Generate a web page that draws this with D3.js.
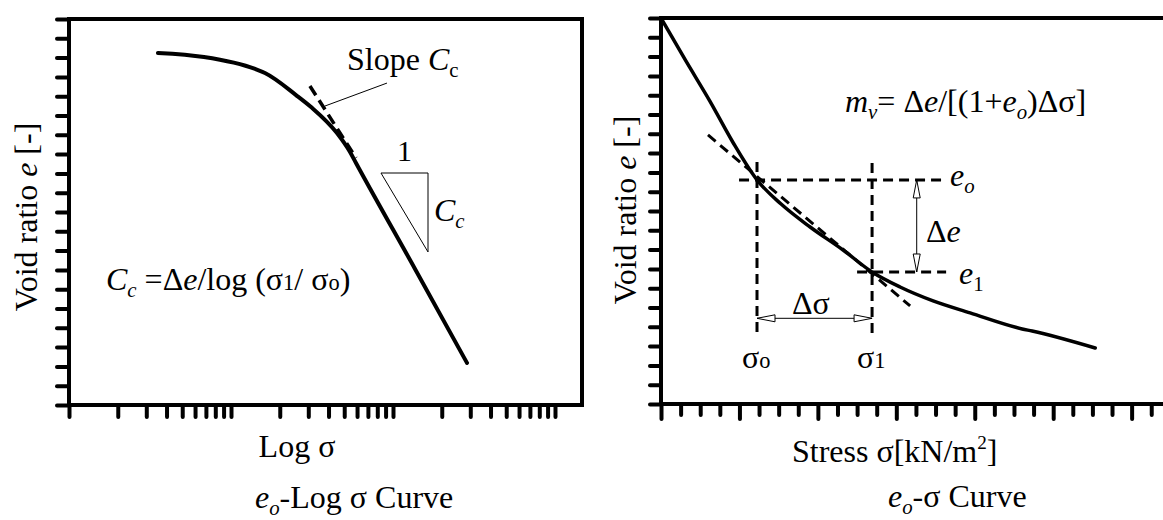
<!DOCTYPE html>
<html><head><meta charset="utf-8">
<script src="https://cdn.jsdelivr.net/npm/d3@7/dist/d3.min.js"></script>
<style>
body{margin:0;background:#fff;}
svg{display:block;}
text{font-family:"Liberation Serif","Times New Roman",serif;fill:#000;white-space:pre;}
</style></head><body>
<svg id="chart" width="1163" height="520"></svg>
<script>
// ---------- data ----------
const eTicks = d3.range(0, 21).map(i => i / 10);                 // void ratio ticks (no labels)
const logTicks = [1,2,3,4,5,6,7,8,9,10,20,30,40,50,60,70,80,90,100,200,300,400,500,600,700,800,900,1000];
const stressTicks = d3.range(0, 626, 25);

// left: e - log sigma curve
const logCurveSigma = [3.54, 6.81, 14.1, 16.2, 25.2, 31.2, 45.1, 54.3, 59.1, 136.8, 286.4];
const logCurveE     = [1.824, 1.803, 1.741, 1.720, 1.606, 1.544, 1.409, 1.311, 1.254, 0.705, 0.218];
const tangentLogSigma = [30.7, 59.1];
const tangentLogE     = [1.653, 1.280];
const leaderSigma = [91.8, 38.0];
const leaderE     = [1.668, 1.549];
const triangleSigma = [84.3, 164.5, 164.5, 84.3];
const triangleE     = [1.202, 1.202, 0.793, 1.202];

// right: e - sigma curve
const stressCurveSigma = [0, 30.6, 62.5, 91.8, 122.4, 153.1, 190.1, 232.1, 269.1, 304.8, 346.9, 394.1, 460.5, 473.2, 553.6];
const stressCurveE     = [2.000, 1.785, 1.568, 1.355, 1.161, 1.036, 0.917, 0.798, 0.684, 0.606, 0.534, 0.472, 0.389, 0.378, 0.290];
const sigmaPoints = [122.4, 269.1];   // sigma_o, sigma_1
const ePoints     = [1.161, 0.684];   // e_o, e_1
const secantSigma = [59.9, 317.6];
const secantE     = [1.394, 0.508];

// ---------- drawing ----------
const svg = d3.select("#chart");
const FS = 32;

const xL = d3.scaleLog().domain([1, 1468]).range([69, 582]);
const yL = d3.scaleLinear().domain([0, 2]).range([405, 19]);
const xR = d3.scaleLinear().domain([0, 640]).range([661, 1163]);
const yR = d3.scaleLinear().domain([0, 2]).range([404, 18]);

function rich(sel, x, y, segs, fs, anchor) {
  const t = sel.append("text").attr("x", x).attr("y", y).attr("font-size", fs)
    .attr("text-anchor", anchor || "start");
  let cur = 0;
  segs.forEach(([str, st = ""]) => {
    const ts = t.append("tspan").text(str);
    let shift = 0, size = fs;
    if (st.includes("i")) ts.attr("font-style", "italic");
    if (st.includes("b")) { shift = fs * 0.22; size = fs * 0.65; }
    if (st.includes("p")) { shift = -fs * 0.4; size = fs * 0.6; }
    if (st.includes("s")) { size = fs * 0.7; }
    if (size !== fs) ts.attr("font-size", size);
    if (shift !== cur) { ts.attr("dy", shift - cur); cur = shift; }
  });
  return t;
}

function styleAxis(g, w) {
  g.select(".domain").remove();
  g.selectAll(".tick line").attr("stroke", "#000").attr("stroke-width", w).attr("stroke-linecap", "round");
  g.selectAll(".tick text").remove();
}

const line = (xs, ys, X, Y, curve) => d3.line().x(i => X(xs[i])).y(i => Y(ys[i])).curve(curve || d3.curveLinear)(d3.range(xs.length));

// ===== Left panel =====
const L = svg.append("g");
L.append("g").attr("transform", `translate(${xL.range()[0]},0)`)
  .call(d3.axisLeft(yL).tickValues(eTicks).tickSize(12).tickFormat(""))
  .call(g => styleAxis(g, 4));
L.append("g").attr("transform", `translate(0,${yL.range()[0]})`)
  .call(d3.axisBottom(xL).tickValues(logTicks).tickSize(12).tickFormat(""))
  .call(g => styleAxis(g, 4));
const [lx0, lx1] = xL.range(), [ly0, ly1] = yL.range();
L.append("path").attr("d", `M${lx0},${ly0}V${ly1}H${lx1}V${ly0}H${lx0 - 1}`)
  .attr("fill", "none").attr("stroke", "#000").attr("stroke-width", 4).attr("stroke-linejoin", "miter");

L.append("path").attr("d", line(logCurveSigma, logCurveE, xL, yL, d3.curveMonotoneX))
  .attr("fill", "none").attr("stroke", "#000").attr("stroke-width", 4).attr("stroke-linecap", "round");
L.append("path").attr("d", line(tangentLogSigma, tangentLogE, xL, yL))
  .attr("fill", "none").attr("stroke", "#000").attr("stroke-width", 3.5).attr("stroke-dasharray", "11,6");
L.append("path").attr("d", line(leaderSigma, leaderE, xL, yL))
  .attr("fill", "none").attr("stroke", "#000").attr("stroke-width", 1);
L.append("path").attr("d", line(triangleSigma, triangleE, xL, yL))
  .attr("fill", "none").attr("stroke", "#000").attr("stroke-width", 1);

rich(L, 347, 70, [["Slope "], ["C", "i"], ["c", "b"]], FS);
rich(L, 397, 161, [["1"]], FS - 2);
rich(L, 434, 221, [["C", "i"], ["c", "ib"]], FS);
rich(L, 106, 290, [["C", "i"], ["c", "ib"], [" =Δ"], ["e", "i"], ["/log (σ"], ["1", "s"], ["/ σ"], ["o", "s"], [")"]], FS);
rich(L, 297, 457, [["Log σ"]], FS, "middle");
rich(L, 255, 508, [["e", "i"], ["o", "ib"], ["-Log σ Curve"]], FS);
rich(L.append("g").attr("transform", "translate(37,217) rotate(-90)"), 0, 0,
  [["Void ratio "], ["e", "i"], [" [-]"]], FS, "middle");

// ===== Right panel =====
const R = svg.append("g");
R.append("g").attr("transform", `translate(${xR.range()[0]},0)`)
  .call(d3.axisLeft(yR).tickValues(eTicks).tickSize(11).tickFormat(""))
  .call(g => styleAxis(g, 4));
R.append("g").attr("transform", `translate(0,${yR.range()[0]})`)
  .call(d3.axisBottom(xR).tickValues(stressTicks.filter(v => v % 100 !== 0)).tickSize(11).tickFormat(""))
  .call(g => styleAxis(g, 4));
R.append("g").attr("transform", `translate(0,${yR.range()[0]})`)
  .call(d3.axisBottom(xR).tickValues(stressTicks.filter(v => v % 100 === 0)).tickSize(15).tickFormat(""))
  .call(g => styleAxis(g, 4));
const [rx0, rx1] = xR.range(), [ry0, ry1] = yR.range();
R.append("path").attr("d", `M${rx1},${ry0}H${rx0}V${ry1}H${rx1}`)
  .attr("fill", "none").attr("stroke", "#000").attr("stroke-width", 4);

const dash = "10,6";
const [s0, s1] = sigmaPoints, [e0, e1] = ePoints;
const dashed = (d) => R.append("path").attr("d", d).attr("fill", "none").attr("stroke", "#000")
  .attr("stroke-width", 3).attr("stroke-dasharray", dash);
dashed(`M${xR(99.5)},${yR(e0)}H${xR(363.5)}`);
dashed(`M${xR(250)},${yR(e1)}H${xR(363.5)}`);
dashed(`M${xR(s0)},${yR(1.254)}V${yR(0.347)}`);
dashed(`M${xR(s1)},${yR(1.249)}V${yR(0.347)}`);
dashed(line(secantSigma, secantE, xR, yR));

R.append("path").attr("d", line(stressCurveSigma, stressCurveE, xR, yR, d3.curveMonotoneX))
  .attr("fill", "none").attr("stroke", "#000").attr("stroke-width", 3.5).attr("stroke-linecap", "round");

const ax = xR(326), ay = yR(0.444);
R.append("path").attr("d", `M${ax},${yR(e0)}V${yR(e1)}`).attr("stroke", "#000").attr("stroke-width", 1);
R.append("path").attr("d", `M${xR(s0)},${ay}H${xR(s1)}`).attr("stroke", "#000").attr("stroke-width", 1);
const head = (d) => R.append("path").attr("d", d).attr("fill", "#fff").attr("stroke", "#000").attr("stroke-width", 1);
head(`M${ax},${yR(e0)}l-3.5,18h7z`);
head(`M${ax},${yR(e1)}l-3.5,-18h7z`);
head(`M${xR(s0)},${ay}l18,-3.5v7z`);
head(`M${xR(s1)},${ay}l-18,-3.5v7z`);

rich(R, 845, 112, [["m", "i"], ["v", "ib"], ["= Δ"], ["e", "i"], ["/[(1+"], ["e", "i"], ["o", "ib"], [")Δσ]"]], FS);
rich(R, 950, 186, [["e", "i"], ["o", "ib"]], FS);
rich(R, 959, 284, [["e", "i"], ["1", "b"]], FS);
rich(R, 926, 242, [["Δ"], ["e", "i"]], FS);
rich(R, 792, 314, [["Δσ"]], FS);
rich(R, 742, 368, [["σ"], ["o", "s"]], FS);
rich(R, 857, 368, [["σ"], ["1", "s"]], FS);
rich(R, 792, 462, [["Stress σ[kN/m"], ["2", "p"], ["]"]], FS);
rich(R, 888, 507, [["e", "i"], ["o", "ib"], ["-σ Curve"]], FS);
rich(R.append("g").attr("transform", "translate(636,210) rotate(-90)"), 0, 0,
  [["Void ratio "], ["e", "i"], [" [-]"]], FS, "middle");
</script>
</body></html>
